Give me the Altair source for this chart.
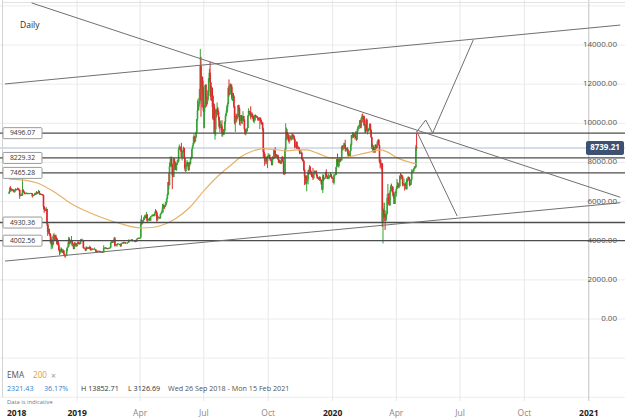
import altair as alt
import pandas as pd

FONT = "Open Sans"
W, H = 625, 397
GREEN = "#35a335"
RED = "#e3262b"

# ---------------- daily candles (Bitcoin, IG chart) ----------------
FIRST_DAY = "2018-09-26"
FIRST_OPEN = 6400

close_2018 = [
    6490, 6690, 6630, 6590, 6630,
    6590, 6530, 6490, 6590, 6640, 6590, 6610, 6670, 6650, 6600, 6290, 6320, 6330, 6320, 6600, 6520, 6480, 6420, 6390, 6410, 6420, 6410, 6400, 6410, 6400, 6410, 6420, 6410, 6290, 6300, 6320,
    6380, 6420, 6380, 6480, 6420, 6470, 6540, 6410, 6350, 6380, 6370, 6350, 6330, 5750, 5650, 5580, 5560, 5620, 4870, 4450, 4600, 4360, 4310, 3890, 4010, 3780, 3820, 4250, 4280, 4020,
    4190, 4140, 3840, 3960, 3770, 3510, 3420, 3420, 3580, 3470, 3400, 3500, 3310, 3240, 3220, 3240, 3520, 3650, 3700, 4080, 3860, 3990, 3950, 4040, 3780, 3820, 3580, 3860, 3740, 3860, 3740,
]
high_2018 = [
    6540, 6750, 6790, 6660, 6660,
    6640, 6610, 6550, 6620, 6680, 6650, 6640, 6720, 6690, 6640, 6600, 6370, 6360, 6420, 7200, 6620, 6560, 6500, 6440, 6440, 6480, 6440, 6430, 6450, 6430, 6440, 6450, 6440, 6420, 6330, 6350,
    6400, 6460, 6430, 6540, 6490, 6490, 6600, 6550, 6420, 6410, 6400, 6390, 6370, 6350, 5770, 5680, 5600, 5720, 5630, 4880, 4770, 4620, 4400, 4370, 4100, 4200, 3920, 4330, 4400, 4300,
    4310, 4300, 4140, 4080, 3990, 3870, 3590, 3520, 3670, 3620, 3490, 3580, 3500, 3330, 3270, 3300, 3610, 3680, 3920, 4200, 4160, 4010, 4050, 4240, 4040, 3890, 3840, 3920, 3930, 3890, 3860,
]
low_2018 = [
    6390, 6460, 6560, 6520, 6550,
    6560, 6500, 6450, 6470, 6560, 6570, 6570, 6590, 6610, 6530, 6140, 6270, 6290, 6290, 6300, 6480, 6440, 6380, 6370, 6380, 6400, 6380, 6370, 6390, 6380, 6380, 6400, 6390, 6200, 6260, 6280,
    6320, 6370, 6340, 6360, 6380, 6410, 6460, 6390, 6330, 6340, 6330, 6320, 6300, 5600, 5430, 5520, 5510, 5550, 4760, 4250, 4420, 4330, 4230, 3850, 3560, 3700, 3600, 3780, 4120, 3980,
    4000, 4060, 3810, 3790, 3750, 3490, 3270, 3330, 3410, 3420, 3370, 3410, 3290, 3190, 3127, 3200, 3240, 3460, 3640, 3700, 3820, 3830, 3900, 3950, 3710, 3730, 3560, 3570, 3720, 3700, 3700,
]

close_2019 = [
    3840, 3940, 3840, 3870, 3840, 4040, 4000, 4000, 4010, 3630, 3630, 3610, 3500, 3660, 3580, 3620, 3650, 3600, 3680, 3530, 3540, 3580, 3560, 3580, 3570, 3570, 3540, 3440, 3410, 3460, 3440,
    3460, 3480, 3410, 3420, 3440, 3400, 3400, 3620, 3620, 3650, 3590, 3610, 3600, 3580, 3590, 3610, 3650, 3890, 3900, 3950, 3920, 3960, 4120, 3740, 3820, 3800, 3810, 3820,
    3830, 3830, 3800, 3720, 3870, 3880, 3890, 3870, 3920, 3910, 3870, 3880, 3880, 3880, 3920, 4010, 3990, 3990, 4030, 4050, 3980, 4000, 4010, 4000, 3940, 3950, 4090, 4090, 4140, 4130, 4120,
    4160, 4880, 4970, 4910, 5040, 5060, 5200, 5280, 5180, 5340, 5020, 5070, 5070, 5150, 5030, 5240, 5240, 5290, 5290, 5330, 5280, 5390, 5520, 5430, 5050, 5210, 5200, 5170, 5150, 5350,
    5400, 5500, 5700, 5830, 5760, 5720, 5830, 5940, 6150, 6350, 7000, 6840, 7800, 7990, 8200, 7880, 7350, 7260, 8190, 7990, 7950, 7630, 7880, 7990, 8050, 8670, 8810, 8720, 8660, 8270, 8550,
    8560, 8740, 8210, 7690, 7790, 7810, 8000, 7930, 7630, 8010, 7930, 8170, 8240, 8690, 8850, 8990, 9320, 9080, 9270, 9530, 10210, 10670, 10860, 11010, 11750, 12930, 11160, 12380, 11870, 10820,
    10580, 10800, 11960, 11210, 10980, 11230, 11400, 12300, 12580, 12100, 11340, 11800, 11390, 10260, 10900, 9480, 9690, 10670, 10530, 10760, 10590, 10320, 9840, 9770, 9880, 9850, 9480, 9530, 9510, 9590, 10090,
    10400, 10540, 10820, 10980, 11800, 11450, 11940, 11970, 11860, 11290, 11530, 11380, 10870, 10050, 10310, 10360, 10230, 10320, 10920, 10760, 10140, 10130, 10410, 10140, 10140, 10370, 10190, 9720, 9500, 9580, 9600,
    9760, 10370, 10630, 10580, 10560, 10320, 10470, 10400, 10360, 10120, 10160, 10420, 10360, 10360, 10310, 10270, 10240, 10190, 10280, 10170, 9990, 10030, 9700, 8530, 8430, 8060, 8190, 8210, 8050, 8300,
    8330, 8390, 8250, 8160, 8150, 7880, 8220, 8200, 8600, 8590, 8270, 8340, 8290, 8370, 8170, 8000, 8090, 7960, 7960, 8240, 8230, 8030, 7470, 7410, 8660, 9250, 9550, 9250, 9430, 9200, 9160,
    9250, 9310, 9190, 9390, 9330, 9360, 9200, 8780, 8810, 9040, 8720, 8800, 8760, 8630, 8460, 8480, 8500, 8180, 8120, 8080, 7620, 7280, 7320, 6910, 7050, 7150, 7520, 7420, 7760, 7570,
    7430, 7320, 7300, 7200, 7400, 7540, 7510, 7530, 7340, 7220, 7200, 7190, 7250, 7070, 7110, 6880, 6620, 7280, 7150, 7190, 7190, 7510, 7320, 7250, 7200, 7200, 7250, 7320, 7390, 7250, 7190,
]
high_2019 = [
    3850, 3960, 3950, 3890, 3940, 4090, 4070, 4110, 4070, 4040, 3670, 3640, 3620, 3720, 3680, 3670, 3680, 3660, 3750, 3700, 3570, 3630, 3600, 3600, 3590, 3650, 3580, 3550, 3440, 3490, 3500,
    3480, 3490, 3480, 3440, 3450, 3440, 3420, 3770, 3650, 3660, 3650, 3630, 3640, 3610, 3640, 3640, 3680, 3940, 4000, 3980, 3990, 3970, 4180, 4190, 3840, 3830, 3830, 3890,
    3860, 3850, 3840, 3810, 3880, 3900, 3920, 3940, 3950, 3930, 3920, 3900, 3890, 3920, 3940, 4080, 4020, 4050, 4050, 4070, 4080, 4020, 4030, 4020, 4010, 3970, 4110, 4100, 4160, 4160, 4140,
    4170, 5100, 5300, 5070, 5060, 5200, 5280, 5340, 5280, 5470, 5370, 5110, 5110, 5170, 5190, 5250, 5280, 5330, 5350, 5350, 5330, 5460, 5620, 5560, 5470, 5320, 5240, 5220, 5190, 5380,
    5450, 5540, 5880, 5900, 5830, 5770, 6000, 5960, 6170, 6430, 7000, 7450, 8000, 8300, 8200, 8300, 7940, 7410, 8260, 8190, 8050, 8010, 7940, 8130, 8150, 8740, 8920, 8800, 8700, 9000, 8580,
    8630, 8810, 8750, 8210, 7900, 7870, 8120, 8040, 7950, 8030, 8010, 8230, 8310, 8700, 8870, 9330, 9460, 9340, 9290, 9580, 10210, 11170, 11280, 11090, 11760, 13800, 13400, 12380, 12300, 12180,
    11150, 10920, 11970, 12010, 11340, 11690, 11540, 12310, 12790, 13150, 12100, 11900, 11840, 11450, 11050, 11000, 9970, 10750, 10700, 11070, 10840, 10640, 10330, 9900, 10140, 9980, 10160, 9580, 9710, 9700, 10100,
    10460, 10650, 10920, 11060, 11890, 12240, 12000, 12050, 12000, 11980, 11560, 11550, 11440, 10880, 10380, 10510, 10460, 10490, 10940, 10950, 10800, 10260, 10430, 10400, 10290, 10620, 10380, 10200, 9700, 9670, 9680,
    9800, 10420, 10770, 10640, 10620, 10870, 10520, 10560, 10470, 10380, 10300, 10440, 10450, 10390, 10360, 10340, 10280, 10290, 10310, 10290, 10190, 10080, 10060, 9770, 8730, 8470, 8250, 8320, 8240, 8340,
    8470, 8400, 8400, 8230, 8210, 8180, 8300, 8320, 8660, 8640, 8780, 8410, 8430, 8400, 8390, 8170, 8130, 8110, 8090, 8270, 8330, 8300, 8050, 7480, 8700, 10000, 9780, 9700, 9500, 9430, 9380,
    9270, 9380, 9370, 9510, 9460, 9440, 9380, 9230, 8860, 9090, 9060, 8890, 8810, 8770, 8650, 8510, 8630, 8510, 8230, 8200, 8100, 7640, 7340, 7330, 7340, 7320, 7620, 7630, 7860, 7830,
    7560, 7440, 7410, 7720, 7450, 7590, 7590, 7560, 7590, 7390, 7260, 7250, 7300, 7280, 7150, 7120, 6920, 7400, 7370, 7220, 7200, 7520, 7650, 7370, 7270, 7420, 7270, 7370, 7510, 7410, 7310,
]
low_2019 = [
    3700, 3820, 3820, 3800, 3810, 3830, 3970, 3960, 3990, 3600, 3570, 3580, 3470, 3500, 3550, 3580, 3580, 3580, 3600, 3500, 3500, 3500, 3550, 3550, 3540, 3560, 3500, 3400, 3390, 3400, 3430,
    3420, 3440, 3400, 3390, 3410, 3380, 3380, 3400, 3600, 3590, 3580, 3570, 3570, 3560, 3570, 3590, 3600, 3640, 3870, 3890, 3900, 3910, 3940, 3700, 3740, 3770, 3690, 3780,
    3810, 3800, 3780, 3700, 3710, 3850, 3860, 3840, 3860, 3880, 3850, 3850, 3860, 3840, 3880, 3910, 3970, 3970, 3990, 4020, 3960, 3970, 3990, 3980, 3920, 3930, 3940, 4070, 4080, 4110, 4100,
    4100, 4150, 4820, 4830, 4890, 5010, 5050, 5180, 5130, 5170, 4970, 4940, 5050, 5040, 5000, 5020, 5220, 5240, 5250, 5270, 5240, 5260, 5390, 5410, 4970, 5040, 5160, 5150, 5120, 5130,
    5350, 5390, 5490, 5430, 5640, 5630, 5720, 5790, 5930, 6130, 6330, 6620, 6830, 7750, 7960, 7780, 6640, 7250, 7250, 7610, 7820, 7600, 7580, 7880, 7990, 8030, 8650, 8650, 8550, 8250, 8100,
    8470, 8540, 8170, 7570, 7510, 7550, 7790, 7860, 7580, 7570, 7800, 7900, 8150, 8220, 8680, 8890, 8990, 8970, 9070, 9250, 9530, 10120, 10650, 10660, 11010, 11740, 10330, 10800, 11450, 10640,
    9740, 9760, 10870, 11080, 10850, 10960, 11130, 11400, 12220, 11620, 11180, 11130, 10830, 10180, 10150, 9450, 9160, 9360, 10300, 10450, 10420, 10150, 9730, 9550, 9750, 9670, 9320, 9320, 9410, 9400, 9600,
    9950, 10360, 10550, 10600, 11000, 11360, 11440, 11500, 11660, 11200, 11140, 11330, 10780, 9950, 9560, 10020, 10080, 10200, 10320, 10680, 9930, 9870, 10100, 9990, 9950, 10180, 10080, 9620, 9410, 9380, 9520,
    9580, 9740, 10340, 10420, 10460, 10200, 10310, 10290, 10220, 10060, 10000, 10120, 10280, 10300, 10260, 10140, 10140, 10130, 9700, 10080, 9930, 9920, 9640, 8240, 8270, 7830, 7930, 8120, 7910, 7710,
    8240, 8250, 8160, 8070, 8080, 7850, 7850, 8150, 8160, 8480, 8240, 8240, 8270, 8280, 8120, 7980, 7990, 7940, 7910, 7920, 8200, 8000, 7380, 7360, 7400, 8550, 9140, 9210, 9120, 9060, 8960,
    9050, 9220, 9120, 9150, 9190, 9300, 9120, 8720, 8770, 8780, 8680, 8700, 8730, 8590, 8420, 8440, 8460, 8150, 8060, 8040, 7560, 6850, 7180, 6870, 6520, 7030, 6880, 7350, 7400, 7510,
    7360, 7250, 7260, 7100, 7160, 7400, 7480, 7450, 7300, 7170, 7150, 7110, 7170, 7060, 7030, 6860, 6580, 6440, 7040, 7100, 7150, 7170, 7300, 7170, 7140, 7150, 7140, 7250, 7300, 7230, 7160,
]

close_2020 = [
    7200, 6980, 7340, 7360, 7360, 7760, 8160, 8040, 7820, 8200, 8020, 8180, 8110, 8810, 8810, 8720, 8900, 8900, 8700, 8630, 8730, 8660, 8390, 8430, 8330, 8600, 8890, 9390, 9290, 9510, 9350,
    9380, 9330, 9290, 9180, 9610, 9740, 9810, 9910, 10160, 9860, 10260, 10350, 10270, 10360, 9900, 9930, 9700, 10180, 9590, 9600, 9690, 9660, 9960, 9670, 9300, 8790, 8820, 8790, 8560,
    8540, 8900, 8760, 8750, 9060, 9150, 8890, 8030, 7930, 7900, 7950, 4970, 5560, 5200, 5360, 5010, 5230, 5390, 6180, 6200, 6190, 5830, 6470, 6740, 6680, 6740, 6470, 6240, 5880, 6390, 6440,
    6640, 6810, 6740, 6870, 6780, 7300, 7200, 7360, 7290, 6870, 6890, 6910, 6860, 6880, 6640, 7120, 7100, 7260, 7130, 6850, 6860, 7130, 7500, 7550, 7560, 7690, 7780, 7760, 8780, 8739.21,
]
high_2020 = [
    7250, 7210, 7400, 7390, 7490, 7780, 8200, 8450, 8050, 8200, 8280, 8190, 8200, 8850, 8890, 8830, 9000, 9000, 9160, 8680, 8760, 8780, 8670, 8520, 8430, 8610, 8960, 9390, 9410, 9560, 9520,
    9430, 9460, 9590, 9340, 9720, 9850, 9870, 9930, 10160, 10130, 10290, 10450, 10500, 10380, 10400, 10050, 9960, 10250, 10240, 9680, 9770, 9700, 9990, 9990, 9680, 9320, 8960, 8890, 8800,
    8740, 8920, 8910, 8830, 9100, 9170, 9200, 8900, 8200, 8140, 7980, 7950, 5950, 5640, 5940, 5370, 5560, 5420, 6390, 6900, 6430, 6420, 6580, 6840, 6920, 6790, 6800, 6430, 6250, 6520, 6510,
    6720, 7150, 7000, 6950, 6880, 7350, 7460, 7420, 7370, 7290, 6950, 7180, 6920, 6990, 6930, 7200, 7160, 7290, 7270, 7220, 6930, 7150, 7650, 7600, 7650, 7700, 7800, 7790, 8900, 9480,
]
low_2020 = [
    7170, 6940, 6870, 7280, 7340, 7360, 7730, 7870, 7770, 7730, 8000, 8030, 8080, 8110, 8600, 8620, 8710, 8830, 8570, 8540, 8600, 8610, 8320, 8280, 8310, 8340, 8560, 8860, 9240, 9250, 9260,
    9300, 9170, 9250, 9100, 9160, 9550, 9720, 9700, 9860, 9750, 9750, 10230, 10040, 10180, 9860, 9530, 9500, 9610, 9570, 9430, 9570, 9590, 9640, 9550, 9240, 8680, 8560, 8490, 8530,
    8500, 8490, 8680, 8700, 8760, 9010, 8870, 8020, 7690, 7770, 7620, 4700, 3860, 5130, 5190, 4550, 5000, 5070, 5350, 5800, 5870, 5790, 5780, 6460, 6540, 6590, 6300, 6160, 5880, 5880, 6360,
    6250, 6620, 6690, 6710, 6680, 6780, 7130, 7170, 7140, 6780, 6800, 6790, 6560, 6800, 6620, 6610, 7000, 7070, 7080, 6780, 6810, 6850, 7050, 7490, 7470, 7520, 7660, 7690, 7740, 8600,
]

# ---------------- EMA 200 ----------------
ema_dates = [
    "2018-09-26", "2018-10-18", "2018-11-05", "2018-11-29", "2018-12-22", "2019-01-15", "2019-02-07",
    "2019-03-03", "2019-04-02", "2019-04-18", "2019-05-07", "2019-05-21", "2019-06-10", "2019-07-02",
    "2019-07-26", "2019-08-09", "2019-08-23", "2019-09-10", "2019-09-24", "2019-10-08", "2019-10-28",
    "2019-11-11", "2019-11-25", "2019-12-11", "2020-01-01", "2020-01-24", "2020-02-17", "2020-03-10",
    "2020-03-18", "2020-04-04", "2020-04-22", "2020-04-30",
]
ema_values = [
    7150, 7100, 6950, 6500, 5930, 5490, 5160,
    4880, 4650, 4675, 4855, 5110, 5670, 6590,
    7460, 7870, 8290, 8600, 8710, 8670, 8590,
    8640, 8640, 8460, 8210, 8290, 8480, 8640,
    8550, 8210, 7990, 7920,
]

# ---------------- horizontal levels ----------------
level_values = [9496.07, 8229.32, 7465.28, 4930.36, 4002.56]
level_labels = ["9496.07", "8229.32", "7465.28", "4930.36", "4002.56"]
last_price = 8739.21
grid_levels = [-4000, -2000, 0, 2000, 4000, 6000, 8000, 10000, 12000, 14000, 16000]
axis_levels = [0, 2000, 4000, 6000, 8000, 10000, 12000, 14000]

# ---------------- drawn trend lines ----------------
resistance_dates = ["2018-10-28", "2021-02-15"]
resistance_prices = [16150, 6220]
channel_dates = ["2018-09-20", "2021-02-15"]
channel_prices = [12010, 15020]
support_dates = ["2018-09-20", "2021-02-15"]
support_prices = [2960, 5940]
proj_up_dates = ["2020-04-30", "2020-05-13", "2020-05-23", "2020-07-20"]
proj_up_prices = [9560, 10170, 9500, 14260]
proj_down_dates = ["2020-04-30", "2020-06-27"]
proj_down_prices = [9600, 5260]

# ---------------- x ticks ----------------
tick_dates = ["2019-01-01", "2019-04-01", "2019-07-01", "2019-10-01", "2020-01-01",
              "2020-04-01", "2020-07-01", "2020-10-01", "2021-01-01"]
tick_labels = ["2019", "Apr", "Jul", "Oct", "2020", "Apr", "Jul", "Oct", "2021"]

# ================= build tables =================
closes = close_2018 + close_2019 + close_2020
highs = high_2018 + high_2019 + high_2020
lows = low_2018 + low_2019 + low_2020
n = min(len(closes), len(highs), len(lows))
closes, highs, lows = closes[:n], highs[:n], lows[:n]
opens = [FIRST_OPEN] + closes[:-1]
candles = pd.DataFrame({
    "date": pd.date_range(FIRST_DAY, periods=n, freq="D"),
    "open": opens, "high": highs, "low": lows, "close": closes,
})
candles["high"] = candles[["high", "open", "close"]].max(axis=1)
candles["low"] = candles[["low", "open", "close"]].min(axis=1)
candles["dir"] = ["up" if c >= o else "down" for o, c in zip(opens, closes)]

ema_df = pd.DataFrame({"date": pd.to_datetime(ema_dates), "ema": ema_values})

BOX_HALF = 281   # half of a level tag's height, in price units
TAG_HALF = 358
level_df = pd.DataFrame({"level": level_values, "label": level_labels})
level_df["top"] = level_df["level"] + BOX_HALF
level_df["bot"] = level_df["level"] - BOX_HALF
last_df = pd.DataFrame({"price": [last_price], "label": [f"{last_price:.2f}"],
                        "top": [last_price + TAG_HALF], "bot": [last_price - TAG_HALF]})
axis_df = pd.DataFrame({"level": axis_levels, "label": [f"{v:.2f}" for v in axis_levels]})

rows = []
for name, ds, ps in [("resistance", resistance_dates, resistance_prices),
                     ("channel", channel_dates, channel_prices),
                     ("support", support_dates, support_prices),
                     ("proj_up", proj_up_dates, proj_up_prices),
                     ("proj_down", proj_down_dates, proj_down_prices)]:
    for d, p in zip(ds, ps):
        rows.append({"line": name, "date": pd.Timestamp(d), "price": p})
trend_df = pd.DataFrame(rows)

ticks_df = pd.DataFrame({"date": pd.to_datetime(tick_dates), "label": tick_labels})
ticks_df["kind"] = ["year" if t.isdigit() else "month" for t in tick_labels]

# ================= scales =================
xscale = alt.Scale(domain=[alt.DateTime(year=2018, month=9, date=20),
                           alt.DateTime(year=2021, month=2, date=14, hours=14)])
yscale = alt.Scale(domain=[-3985, 16300], nice=False, zero=False)


def X(field="date"):
    return alt.X(f"{field}:T", scale=xscale, axis=None, title="")


def Y(field):
    return alt.Y(f"{field}:Q", scale=yscale, axis=None, title="")


hgrid = alt.Chart(pd.DataFrame({"level": grid_levels})).mark_rule(
    color="#ececec", strokeWidth=1).encode(
    y=Y("level"), x=alt.value(0), x2=alt.value(W))

vgrid = alt.Chart(ticks_df).mark_rule(strokeWidth=1).encode(
    x=X(), y=alt.value(0), y2=alt.value(H + 4),
    color=alt.condition("datum.label == '2021'", alt.value("#c4c4c4"), alt.value("#e8e8e8")))

border_left = alt.Chart(pd.DataFrame({"a": [0]})).mark_rule(color="#d2d2d2").encode(
    x=alt.value(2.5), y=alt.value(0), y2=alt.value(H))
border_top = alt.Chart(pd.DataFrame({"a": [0]})).mark_rule(color="#e2e2e2").encode(
    x=alt.value(2.5), x2=alt.value(W), y=alt.value(2.5))

last_line = alt.Chart(last_df).mark_rule(color="#c9d3e2", strokeWidth=1.5).encode(
    y=Y("price"), x=alt.value(0), x2=alt.value(W))

cenc = alt.Color("dir:N", scale=alt.Scale(domain=["up", "down"], range=[GREEN, RED]), legend=None)
wicks = alt.Chart(candles).mark_rule(strokeWidth=1).encode(
    x=X(), y=Y("low"), y2="high:Q", color=cenc)
bodies = alt.Chart(candles).mark_bar(size=1.6).encode(
    x=X(), y=Y("open"), y2="close:Q", color=cenc)

ema = alt.Chart(ema_df).mark_line(color="#e6b268", strokeWidth=1.2, interpolate="monotone").encode(
    x=X(), y=Y("ema"))

levels = alt.Chart(level_df).mark_rule(color="#4d4d4d", strokeWidth=1.3).encode(
    y=Y("level"), x=alt.value(0), x2=alt.value(W))

trends = alt.Chart(trend_df).mark_line(color="#707070", strokeWidth=1, clip=True).encode(
    x=X(), y=Y("price"), detail="line:N")

tags = alt.Chart(level_df).mark_rect(fill="white", stroke="#9b9b9b", strokeWidth=1, cornerRadius=1).encode(
    x=alt.value(3), x2=alt.value(42), y=Y("top"), y2="bot:Q")
tag_text = alt.Chart(level_df).mark_text(font=FONT, fontSize=6.8, color="#333333",
                                         align="center", baseline="middle").encode(
    x=alt.value(22.5), y=Y("level"), text="label:N")

ylabels = alt.Chart(axis_df).mark_text(font=FONT, fontSize=8, color="#555555",
                                       align="right", baseline="middle").encode(
    x=alt.value(617), y=Y("level"), text="label:N")

last_tag = alt.Chart(last_df).mark_rect(fill="#3e5173", cornerRadius=2).encode(
    x=alt.value(586), x2=alt.value(624), y=Y("top"), y2="bot:Q")
last_text = alt.Chart(last_df).mark_text(font=FONT, fontSize=8, fontWeight="bold", color="white",
                                         align="center", baseline="middle").encode(
    x=alt.value(605), y=Y("price"), text="label:N")

year_labels = alt.Chart(ticks_df).transform_filter("datum.kind == 'year'").mark_text(
    font=FONT, fontSize=8.5, fontWeight="bold", color="#222222", baseline="middle").encode(
    x=X(), y=alt.value(413), text="label:N")
month_labels = alt.Chart(ticks_df).transform_filter("datum.kind == 'month'").mark_text(
    font=FONT, fontSize=8.5, color="#8a8a8a", baseline="middle").encode(
    x=X(), y=alt.value(413), text="label:N")


def note(txt, x, y, color, size, weight="normal"):
    return alt.Chart(pd.DataFrame({"t": [txt]})).mark_text(
        font=FONT, fontSize=size, fontWeight=weight, color=color,
        align="left", baseline="middle").encode(
        x=alt.value(x), y=alt.value(y), text="t:N")


notes = [
    note("2018", 7, 413, "#222222", 8.5, "bold"),
    note("Daily", 20, 25, "#2a2a2a", 8.5),
    note("EMA", 7, 376, "#555555", 8.2),
    note("200", 33, 376, "#e3a03c", 8.2),
    note("×", 51, 375.5, "#999999", 8.5),
    note("2321.43", 7, 389, "#3a7ec4", 7.2),
    note("36.17%", 44, 389, "#3a7ec4", 7.2),
    note("H 13852.71", 81, 389, "#333333", 7.2),
    note("L 3126.69", 128, 389, "#333333", 7.2),
    note("Wed 26 Sep 2018 - Mon 15 Feb 2021", 168, 389, "#555555", 7.2),
    note("Data is indicative", 7, 402, "#777777", 5.8),
]

chart = alt.layer(
    hgrid, vgrid, border_left, border_top, last_line,
    wicks, bodies, ema, levels, trends,
    tags, tag_text, ylabels, last_tag, last_text,
    year_labels, month_labels, *notes,
).properties(
    width=W, height=H,
    autosize=alt.AutoSizeParams(type="none"),
    padding={"left": 0, "top": 0, "right": 0, "bottom": 23},
    background="white",
).configure_view(strokeWidth=0)

chart.save("out.html", embed_options={"renderer": "svg", "actions": False})
